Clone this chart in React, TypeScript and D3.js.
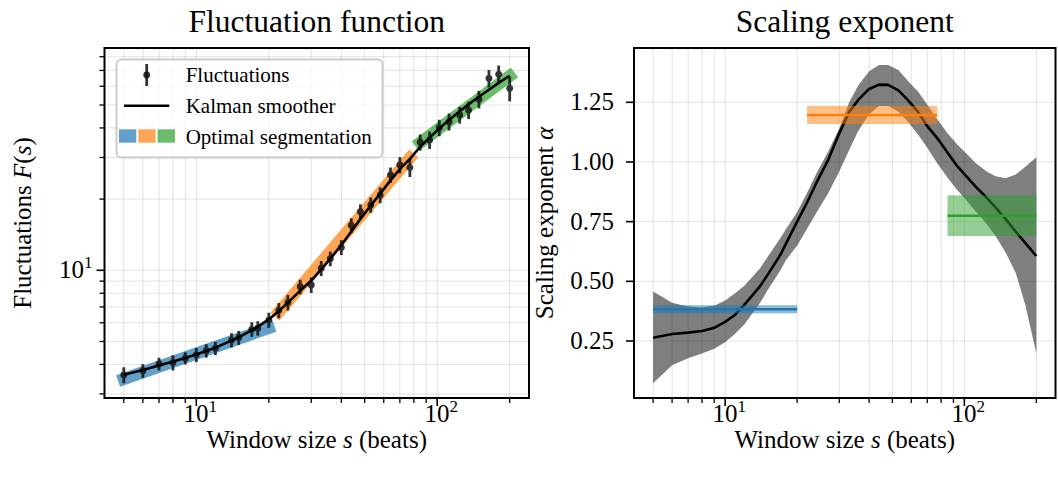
import React from "react";
import * as d3 from "d3";

// ---------- data ----------
const sizes = [5, 6, 7, 8, 9, 10, 11, 12, 14, 15, 17, 18, 20, 22, 24, 27, 30, 33, 36, 40, 44, 48, 53, 58, 64, 70, 77, 85, 93, 102, 112, 124, 135, 149, 164, 180, 200];
const fluct = [3.61, 3.76, 4.02, 4.07, 4.25, 4.39, 4.57, 4.68, 5.07, 5.19, 5.63, 5.69, 6.16, 6.77, 7.31, 8.52, 8.67, 10.2, 11.2, 12.5, 15.5, 17.7, 18.9, 20.8, 25.3, 27.9, 27.2, 34.8, 35.6, 40.1, 42.5, 45.4, 47.6, 52.9, 64.8, 67.4, 58.8];
const fluctErr = [0.28, 0.25, 0.25, 0.3, 0.25, 0.3, 0.3, 0.3, 0.35, 0.35, 0.4, 0.4, 0.45, 0.5, 0.55, 0.6, 0.65, 0.75, 0.8, 0.9, 1.1, 1.3, 1.4, 1.6, 1.9, 2.2, 2.4, 2.7, 3.0, 3.2, 3.5, 3.7, 4.0, 4.5, 5.5, 6.0, 7.0];
const smooth = [3.62, 3.79, 3.96, 4.11, 4.26, 4.41, 4.56, 4.71, 5.04, 5.21, 5.58, 5.78, 6.2, 6.72, 7.3, 8.2, 9.05, 10.1, 11.2, 12.8, 14.6, 16.5, 18.8, 21.1, 24.0, 26.8, 29.6, 33.3, 36.4, 39.8, 43.2, 47.0, 50.3, 54.2, 58.0, 62.0, 66.5];
const alphaMean = [0.264, 0.279, 0.285, 0.292, 0.305, 0.33, 0.36, 0.40, 0.48, 0.525, 0.61, 0.66, 0.75, 0.83, 0.91, 1.01, 1.12, 1.21, 1.26, 1.306, 1.324, 1.323, 1.30, 1.26, 1.21, 1.15, 1.10, 1.04, 0.985, 0.94, 0.895, 0.85, 0.81, 0.76, 0.708, 0.66, 0.606];
const alphaHi = [0.457, 0.41, 0.395, 0.39, 0.398, 0.42, 0.45, 0.48, 0.555, 0.6, 0.68, 0.72, 0.79, 0.87, 0.95, 1.045, 1.14, 1.25, 1.32, 1.38, 1.406, 1.406, 1.385, 1.34, 1.295, 1.24, 1.18, 1.12, 1.075, 1.035, 0.994, 0.96, 0.94, 0.932, 0.948, 0.98, 1.02];
const alphaLo = [0.073, 0.148, 0.178, 0.198, 0.218, 0.245, 0.28, 0.318, 0.41, 0.46, 0.545, 0.59, 0.65, 0.72, 0.785, 0.87, 0.96, 1.05, 1.13, 1.2, 1.235, 1.235, 1.21, 1.17, 1.115, 1.06, 0.995, 0.935, 0.885, 0.84, 0.79, 0.74, 0.69, 0.62, 0.535, 0.40, 0.198];

const segColors = ["#1f77b4", "#ff7f0e", "#2ca02c"];
const segStart = [5, 22, 85];
const segEnd = [20, 77, 200];
const segFStart = [3.47, 6.66, 34.7];
const segFEnd = [5.7, 29.85, 66.3];
const segAlpha = [0.383, 1.197, 0.775];
const segAlphaErr = [0.017, 0.038, 0.085];

const xMajor = [10, 100];
const xMinor = [5, 6, 7, 8, 9, 20, 30, 40, 50, 60, 70, 80, 90, 200];
const yLeftMajor = [10];
const yLeftMinor = [3, 4, 5, 6, 7, 8, 9, 20, 30, 40, 50, 60, 70, 80];
const yRightTicks = [0.25, 0.5, 0.75, 1.0, 1.25];
const yRightLabels = ["0.25", "0.50", "0.75", "1.00", "1.25"];

// ---------- layout ----------
const W = 1058, H = 479;
const FONT = "'Liberation Serif', 'Times New Roman', serif";
const top = 48, bottom = 398;
const L = { x0: 104.5, x1: 529 };
const R = { x0: 634, x1: 1055.5 };
const xDomain: [number, number] = [4.158, 240.5];

const xL = d3.scaleLog().domain(xDomain).range([L.x0, L.x1]);
const xR = d3.scaleLog().domain(xDomain).range([R.x0, R.x1]);
const yL = d3.scaleLog().domain([2.884, 87.1]).range([bottom, top]);
const yR = d3.scaleLinear().domain([0.0112, 1.4775]).range([bottom, top]);

const gridStyle = { stroke: "#b0b0b0", strokeOpacity: 0.35, strokeWidth: 1 };

function Sup({ base, exp, x, y, anchor }: { base: string; exp: string; x: number; y: number; anchor: string }) {
  return (
    <text x={x} y={y} textAnchor={anchor} fontFamily={FONT} fontSize={25} fill="#000">
      {base}
      <tspan dy={-10} fontSize={17}>{exp}</tspan>
    </text>
  );
}

export default function App() {
  const idx = sizes.map((_, i) => i);
  const smoothLine = d3.line<number>().x((i) => xL(sizes[i])).y((i) => yL(smooth[i]));
  const alphaLine = d3.line<number>().x((i) => xR(sizes[i])).y((i) => yR(alphaMean[i]));
  const alphaArea = d3.area<number>().x((i) => xR(sizes[i])).y0((i) => yR(alphaLo[i])).y1((i) => yR(alphaHi[i]));

  const xGrid = (sc: d3.ScaleLogarithmic<number, number>) => (
    <g>
      {[...xMinor, ...xMajor].map((t) => (
        <line key={"g" + t} x1={sc(t)} x2={sc(t)} y1={top} y2={bottom} {...gridStyle} />
      ))}
    </g>
  );

  const xAxisTicks = (sc: d3.ScaleLogarithmic<number, number>) => (
    <g>
      {xMinor.map((t) => (
        <line key={"mt" + t} x1={sc(t)} x2={sc(t)} y1={bottom} y2={bottom + 5} stroke="#000" strokeWidth={1.3} />
      ))}
      {xMajor.map((t, i) => (
        <g key={"Mt" + t}>
          <line x1={sc(t)} x2={sc(t)} y1={bottom} y2={bottom + 8} stroke="#000" strokeWidth={1.6} />
          <Sup base="10" exp={String(i + 1)} x={sc(t) + 4} y={bottom + 24} anchor="middle" />
        </g>
      ))}
    </g>
  );

  return (
    <svg width={W} height={H} style={{ position: "absolute", left: 0, top: 0, background: "#fff" }}>
      <rect x={0} y={0} width={W} height={H} fill="#fff" />

      {/* ================= LEFT PANEL ================= */}
      <text x={(L.x0 + L.x1) / 2} y={32} textAnchor="middle" fontFamily={FONT} fontSize={31.5}>Fluctuation function</text>
      {xGrid(xL)}
      {[...yLeftMinor, ...yLeftMajor].map((t) => (
        <line key={"lg" + t} x1={L.x0} x2={L.x1} y1={yL(t)} y2={yL(t)} {...gridStyle} />
      ))}

      {segStart.map((s0, k) => (
        <line key={"sb" + k} x1={xL(s0)} y1={yL(segFStart[k])} x2={xL(segEnd[k])} y2={yL(segFEnd[k])}
          stroke={segColors[k]} strokeOpacity={0.7} strokeWidth={12} strokeLinecap="square" />
      ))}

      {idx.map((i) => (
        <g key={"eb" + i} opacity={0.85}>
          <line x1={xL(sizes[i])} x2={xL(sizes[i])} y1={yL(fluct[i] - fluctErr[i])} y2={yL(fluct[i] + fluctErr[i])}
            stroke="#111" strokeWidth={2.8} />
          <circle cx={xL(sizes[i])} cy={yL(fluct[i])} r={3.4} fill="#111" />
        </g>
      ))}

      <path d={smoothLine(idx) || ""} fill="none" stroke="#000" strokeWidth={2.6} strokeLinejoin="round" />

      {yLeftMinor.map((t) => (
        <line key={"ylt" + t} x1={L.x0 - 5} x2={L.x0} y1={yL(t)} y2={yL(t)} stroke="#000" strokeWidth={1.3} />
      ))}
      {yLeftMajor.map((t) => (
        <g key={"ylM" + t}>
          <line x1={L.x0 - 8} x2={L.x0} y1={yL(t)} y2={yL(t)} stroke="#000" strokeWidth={1.6} />
          <Sup base="10" exp="1" x={L.x0 - 12} y={yL(t) + 8} anchor="end" />
        </g>
      ))}
      {xAxisTicks(xL)}
      <rect x={L.x0} y={top} width={L.x1 - L.x0} height={bottom - top} fill="none" stroke="#000" strokeWidth={2} />

      <g>
        <rect x={116.5} y={59.5} width={266} height={98} rx={5} fill="#fff" fillOpacity={0.8} stroke="#cccccc" strokeWidth={2} />
        <line x1={146.7} x2={146.7} y1={64} y2={86} stroke="#111" strokeWidth={2.8} opacity={0.85} />
        <circle cx={146.7} cy={75} r={3.4} fill="#111" opacity={0.85} />
        <text x={185.7} y={82} fontFamily={FONT} fontSize={21}>Fluctuations</text>
        <line x1={124} x2={169.3} y1={105.7} y2={105.7} stroke="#000" strokeWidth={2.6} />
        <text x={185.7} y={113} fontFamily={FONT} fontSize={21}>Kalman smoother</text>
        {segColors.map((c, k) => (
          <rect key={"lp" + k} x={119 + k * 19.3} y={129.3} width={17.3} height={13.4} fill={c} fillOpacity={0.7} />
        ))}
        <text x={185.7} y={143.5} fontFamily={FONT} fontSize={21}>Optimal segmentation</text>
      </g>

      <text x={(L.x0 + L.x1) / 2} y={448} textAnchor="middle" fontFamily={FONT} fontSize={25}>
        Window size <tspan fontStyle="italic">s</tspan> (beats)
      </text>
      <text transform={`translate(31, ${(top + bottom) / 2}) rotate(-90)`} textAnchor="middle" fontFamily={FONT} fontSize={25}>
        Fluctuations <tspan fontStyle="italic">F</tspan>(<tspan fontStyle="italic">s</tspan>)
      </text>

      {/* ================= RIGHT PANEL ================= */}
      <text x={(R.x0 + R.x1) / 2} y={32} textAnchor="middle" fontFamily={FONT} fontSize={31.5}>Scaling exponent</text>
      {xGrid(xR)}
      {yRightTicks.map((t) => (
        <line key={"rg" + t} x1={R.x0} x2={R.x1} y1={yR(t)} y2={yR(t)} {...gridStyle} />
      ))}

      <path d={alphaArea(idx) || ""} fill="#000" fillOpacity={0.5} />
      <path d={alphaLine(idx) || ""} fill="none" stroke="#000" strokeWidth={2.6} strokeLinejoin="round" />

      {segStart.map((s0, k) => (
        <g key={"rs" + k}>
          <rect x={xR(s0)} width={xR(segEnd[k]) - xR(s0)} y={yR(segAlpha[k] + segAlphaErr[k])}
            height={yR(segAlpha[k] - segAlphaErr[k]) - yR(segAlpha[k] + segAlphaErr[k])} fill={segColors[k]} fillOpacity={0.5} />
          <line x1={xR(s0)} x2={xR(segEnd[k])} y1={yR(segAlpha[k])} y2={yR(segAlpha[k])} stroke={segColors[k]} strokeWidth={2.6} />
        </g>
      ))}

      {yRightTicks.map((t, i) => (
        <g key={"yrt" + t}>
          <line x1={R.x0 - 8} x2={R.x0} y1={yR(t)} y2={yR(t)} stroke="#000" strokeWidth={1.6} />
          <text x={R.x0 - 20} y={yR(t) + 8} textAnchor="end" fontFamily={FONT} fontSize={25}>{yRightLabels[i]}</text>
        </g>
      ))}
      {xAxisTicks(xR)}
      <rect x={R.x0} y={top} width={R.x1 - R.x0} height={bottom - top} fill="none" stroke="#000" strokeWidth={2} />

      <text x={(R.x0 + R.x1) / 2} y={448} textAnchor="middle" fontFamily={FONT} fontSize={25}>
        Window size <tspan fontStyle="italic">s</tspan> (beats)
      </text>
      <text transform={`translate(553, ${(top + bottom) / 2}) rotate(-90)`} textAnchor="middle" fontFamily={FONT} fontSize={25}>
        Scaling exponent <tspan fontStyle="italic">α</tspan>
      </text>
    </svg>
  );
}
